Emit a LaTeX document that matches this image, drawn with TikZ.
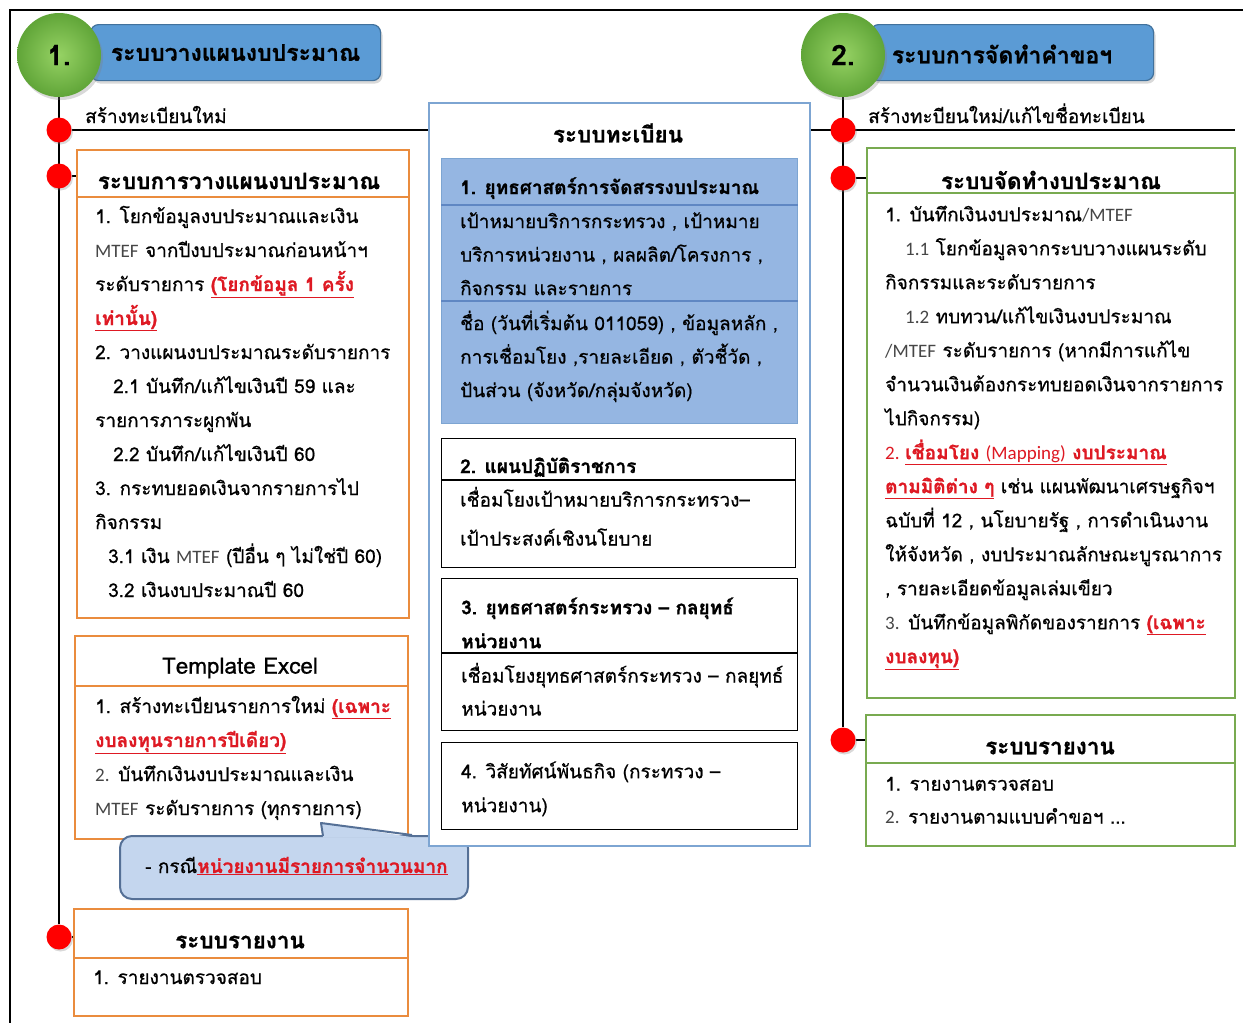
\documentclass[tikz,border=0pt]{standalone}
\usepackage{fontspec}
\setmainfont[Script=Thai,UprightFeatures={FakeBold=0.6},BoldFeatures={FakeBold=0.9}]{Loma}
\newfontfamily\lat{Carlito}
\usetikzlibrary{backgrounds,shadows}
\definecolor{orC}{RGB}{234,140,62}
\definecolor{grC}{RGB}{120,170,80}
\definecolor{barF}{RGB}{91,155,213}
\definecolor{barD}{RGB}{65,113,156}
\definecolor{regC}{RGB}{125,165,210}
\definecolor{secF}{RGB}{149,182,226}
\definecolor{secD}{RGB}{95,135,195}
\definecolor{redT}{RGB}{222,25,35}
\definecolor{calF}{RGB}{196,214,238}
\definecolor{calD}{RGB}{85,112,150}
\definecolor{greyT}{RGB}{70,70,70}
\definecolor{gIn}{RGB}{150,210,100}
\definecolor{gOut}{RGB}{96,165,56}
\newcommand\rt[1]{\textcolor{redT}{\bfseries\underline{#1}}}
\newcommand\mt[1]{{\lat\color{greyT}#1}}
\begin{document}
\begin{tikzpicture}[x=1pt,y=-1pt,
 body/.style={anchor=north west,inner sep=0pt,align=left,font=\fontsize{19}{34}\selectfont},
 lab/.style={anchor=base west,inner sep=0pt,font=\fontsize{19}{24}\selectfont},
 hd/.style={inner sep=0pt,font=\bfseries\fontsize{22.5}{24}\selectfont},
 hdw/.style={anchor=base west,inner sep=0pt,font=\bfseries\fontsize{19}{24}\selectfont},
 obox/.style={draw=orC,line width=2.2pt,fill=white,anchor=north west,inner sep=0pt},
 gbox/.style={draw=grC,line width=2.2pt,fill=white,anchor=north west,inner sep=0pt},
 kbox/.style={draw=black,line width=1.3pt,fill=white,anchor=north west,inner sep=0pt},
 osep/.style={draw=orC,line width=1.6pt},
 gsep/.style={draw=grC,line width=1.6pt},
 ksep/.style={draw=black,line width=1.1pt},
 bsep/.style={draw=secD,line width=1.1pt},
 tl/.style={draw=black,line width=1.4pt},
 dot/.style={circle,fill=red,minimum size=25pt,inner sep=0pt,drop shadow={opacity=0.3,shadow xshift=1.5pt,shadow yshift=-2pt}},
 gcirc/.style={circle,minimum size=84pt,inner sep=0pt,inner color=gIn,outer color=gOut,font=\bfseries\fontsize{28}{30}\selectfont,drop shadow={opacity=0.3,shadow xshift=2pt,shadow yshift=-3pt}},
 bar/.style={anchor=north west,rounded corners=8pt,fill=barF,draw=barD,line width=1.2pt,inner sep=0pt,font=\bfseries\fontsize{23}{24}\selectfont,drop shadow={opacity=0.3,shadow xshift=2pt,shadow yshift=-3pt}}
]
\useasboundingbox (0,0) rectangle (1243,1023);
\draw[line width=1.5pt] (1243,10) -- (10,10) -- (10,1023);

% ---------- left column ----------
\node[bar,minimum width=290pt,minimum height=56pt] (bar1) at (90,24) {ระบบวางแผนงบประมาณ};
\node[gcirc] (c1) at (59,55) {1.};
\node[dot] (la) at (59,130) {};
\node[dot] (lb) at (59,176) {};
\node[dot] (lc) at (59,937) {};
\node[lab] (lab1) at (85,123) {สร้างทะเบียนใหม่};

\node[obox,minimum width=332pt,minimum height=468pt] (b1) at (76,149) {};
\node[hd] (h1) at (239,181) {ระบบการวางแผนงบประมาณ};
\draw[osep] (b1.west |- 0,197) -- (b1.east |- 0,197);
\node[body] (t1) at (95,199) {\strut 1. โยกข้อมูลงบประมาณและเงิน\\
\mt{MTEF} จากปีงบประมาณก่อนหน้าฯ\\
ระดับรายการ \rt{(โยกข้อมูล 1 ครั้ง}\\
\rt{เท่านั้น)}\\
2. วางแผนงบประมาณระดับรายการ\\
\hspace*{18pt}2.1 บันทึก/แก้ไขเงินปี 59 และ\\
รายการภาระผูกพัน\\
\hspace*{18pt}2.2 บันทึก/แก้ไขเงินปี 60\\
3. กระทบยอดเงินจากรายการไป\\
กิจกรรม\\
\hspace*{13pt}3.1 เงิน \mt{MTEF} (ปีอื่น ๆ ไม่ใช่ปี 60)\\
\hspace*{13pt}3.2 เงินงบประมาณปี 60};

\node[obox,minimum width=333pt,minimum height=203pt] (b2) at (74,635) {};
\node[inner sep=0pt,font=\fontsize{22.5}{24}\selectfont] (h2) at (240,668) {Template Excel};
\draw[osep] (b2.west |- 0,686) -- (b2.east |- 0,686);
\node[body] (t2) at (95,689) {\strut 1. สร้างทะเบียนรายการใหม่ \rt{(เฉพาะ}\\
\rt{งบลงทุนรายการปีเดียว)}\\
\mt{2.} บันทึกเงินงบประมาณและเงิน\\
\mt{MTEF} ระดับรายการ (ทุกรายการ)};

\node[fill=calF,draw=calD,rounded corners=12pt,line width=2pt,anchor=north west,minimum width=348pt,minimum height=63pt,inner sep=0pt] (cal) at (119,835) {};
\fill[calF] (321,823) -- (414,837.5) -- (323,837.5) -- cycle;
\draw[calD,line width=2pt,line join=round] (323,836) -- (321,823) -- (412,835);
\node[lab] (ct) at (145,873) {- กรณี\rt{หน่วยงานมีรายการจำนวนมาก}};

\node[obox,minimum width=334pt,minimum height=107pt] (b3) at (73,908) {};
\node[hd] (h3) at (240,942) {ระบบรายงาน};
\draw[osep] (b3.west |- 0,958) -- (b3.east |- 0,958);
\node[body] (t3) at (93,960) {\strut 1. รายงานตรวจสอบ};

% ---------- centre column ----------
\node[draw=regC,line width=1.8pt,fill=white,anchor=north west,minimum width=381pt,minimum height=743pt,inner sep=0pt] (reg) at (428,102) {};
\node[hd] (rtit) at (618,133) {ระบบทะเบียน};

\node[fill=secF,draw=regC,line width=1pt,anchor=north west,minimum width=356pt,minimum height=265pt,inner sep=0pt] (s1) at (441,158) {};
\node[hdw] (s1h) at (460,194) {1. ยุทธศาสตร์การจัดสรรงบประมาณ};
\draw[bsep] (s1.west |- 0,205) -- (s1.east |- 0,205);
\node[body,font=\fontsize{19}{33.5}\selectfont] (s1a) at (460,204.5) {\strut เป้าหมายบริการกระทรวง , เป้าหมาย\\
บริการหน่วยงาน , ผลผลิต/โครงการ ,\\
กิจกรรม และรายการ};
\draw[bsep] (s1.west |- 0,301) -- (s1.east |- 0,301);
\node[body,font=\fontsize{19}{33.5}\selectfont] (s1b) at (460,306.5) {\strut ชื่อ (วันที่เริ่มต้น 011059) , ข้อมูลหลัก ,\\
การเชื่อมโยง ,รายละเอียด , ตัวชี้วัด ,\\
ปันส่วน (จังหวัด/กลุ่มจังหวัด)};

\node[kbox,minimum width=354pt,minimum height=129pt] (k2) at (441,438) {};
\node[hdw] (k2h) at (460,473) {2. แผนปฏิบัติราชการ};
\draw[ksep] (k2.west |- 0,480) -- (k2.east |- 0,480);
\node[body,font=\fontsize{19}{39}\selectfont] (k2a) at (460,479) {\strut เชื่อมโยงเป้าหมายบริการกระทรวง–\\
เป้าประสงค์เชิงนโยบาย};

\node[kbox,minimum width=356pt,minimum height=152pt] (k3) at (441,578) {};
\node[body,font=\bfseries\fontsize{19}{34}\selectfont] (k3h) at (461,590.2) {\strut 3. ยุทธศาสตร์กระทรวง – กลยุทธ์\\
หน่วยงาน};
\draw[ksep] (k3.west |- 0,653) -- (k3.east |- 0,653);
\node[body,font=\fontsize{19}{33}\selectfont] (k3a) at (461,659.2) {\strut เชื่อมโยงยุทธศาสตร์กระทรวง – กลยุทธ์\\
หน่วยงาน};

\node[kbox,minimum width=356pt,minimum height=87pt] (k4) at (441,742) {};
\node[body] (k4a) at (461,754.2) {\strut 4. วิสัยทัศน์พันธกิจ (กระทรวง –\\
หน่วยงาน)};

% ---------- right column ----------
\node[bar,minimum width=283pt,minimum height=56pt] (bar2) at (870,24) {};
\node[inner sep=0pt,font=\bfseries\fontsize{23}{24}\selectfont] (bt2) at (1002,54) {ระบบการจัดทำคำขอฯ};
\node[gcirc] (c2) at (843,55) {2.};
\node[dot] (ra) at (843,130) {};
\node[dot] (rb) at (843,178) {};
\node[dot] (rc) at (843,740) {};
\coordinate (rend) at (1235,130);
\node[lab] (lab2) at (868,123) {สร้างทะบียนใหม่/แก้ไขชื่อทะเบียน};

\node[gbox,minimum width=368pt,minimum height=550pt] (g1) at (866,147) {};
\node[hd] (gh1) at (1051,180) {ระบบจัดทำงบประมาณ};
\draw[gsep] (g1.west |- 0,193) -- (g1.east |- 0,193);
\node[body] (gt1) at (885,197.2) {\strut 1. บันทึกเงินงบประมาณ\mt{/MTEF}\\
\hspace*{20pt}\mt{1.1} โยกข้อมูลจากระบบวางแผนระดับ\\
กิจกรรมและระดับรายการ\\
\hspace*{20pt}\mt{1.2} ทบทวน/แก้ไขเงินงบประมาณ\\
\mt{/MTEF} ระดับรายการ (หากมีการแก้ไข\\
จำนวนเงินต้องกระทบยอดเงินจากรายการ\\
ไปกิจกรรม)\\
{\lat\color{redT}2. }\rt{เชื่อมโยง {\lat\mdseries(Mapping)} งบประมาณ}\\
\rt{ตามมิติต่าง ๆ} เช่น แผนพัฒนาเศรษฐกิจฯ\\
ฉบับที่ 12 , นโยบายรัฐ , การดำเนินงาน\\
ให้จังหวัด , งบประมาณลักษณะบูรณาการ\\
, รายละเอียดข้อมูลเล่มเขียว\\
\mt{3.} บันทึกข้อมูลพิกัดของรายการ \rt{(เฉพาะ}\\
\rt{งบลงทุน)}};

\node[gbox,minimum width=369pt,minimum height=131pt] (g2) at (865,714) {};
\node[hd] (gh2) at (1050,748) {ระบบรายงาน};
\draw[gsep] (g2.west |- 0,763) -- (g2.east |- 0,763);
\node[body,font=\fontsize{19}{33}\selectfont] (gt2) at (885,767.2) {\strut 1. รายงานตรวจสอบ\\
\mt{2.} รายงานตามแบบคำขอฯ ...};

% ---------- connectors ----------
\begin{pgfonlayer}{background}
\draw[tl] (c1) -- (lc);
\draw[tl] (c2) -- (rc);
\draw[tl] (la) -- (reg.west |- la);
\draw[tl] (reg.east |- ra) -- (rend);
\draw[tl] (lb) -- (b1.west |- lb);
\draw[tl] (lc) -- (b3.west |- lc);
\draw[tl] (rb) -- (g1.west |- rb);
\draw[tl] (rc) -- (g2.west |- rc);
\end{pgfonlayer}
\end{tikzpicture}
\end{document}
